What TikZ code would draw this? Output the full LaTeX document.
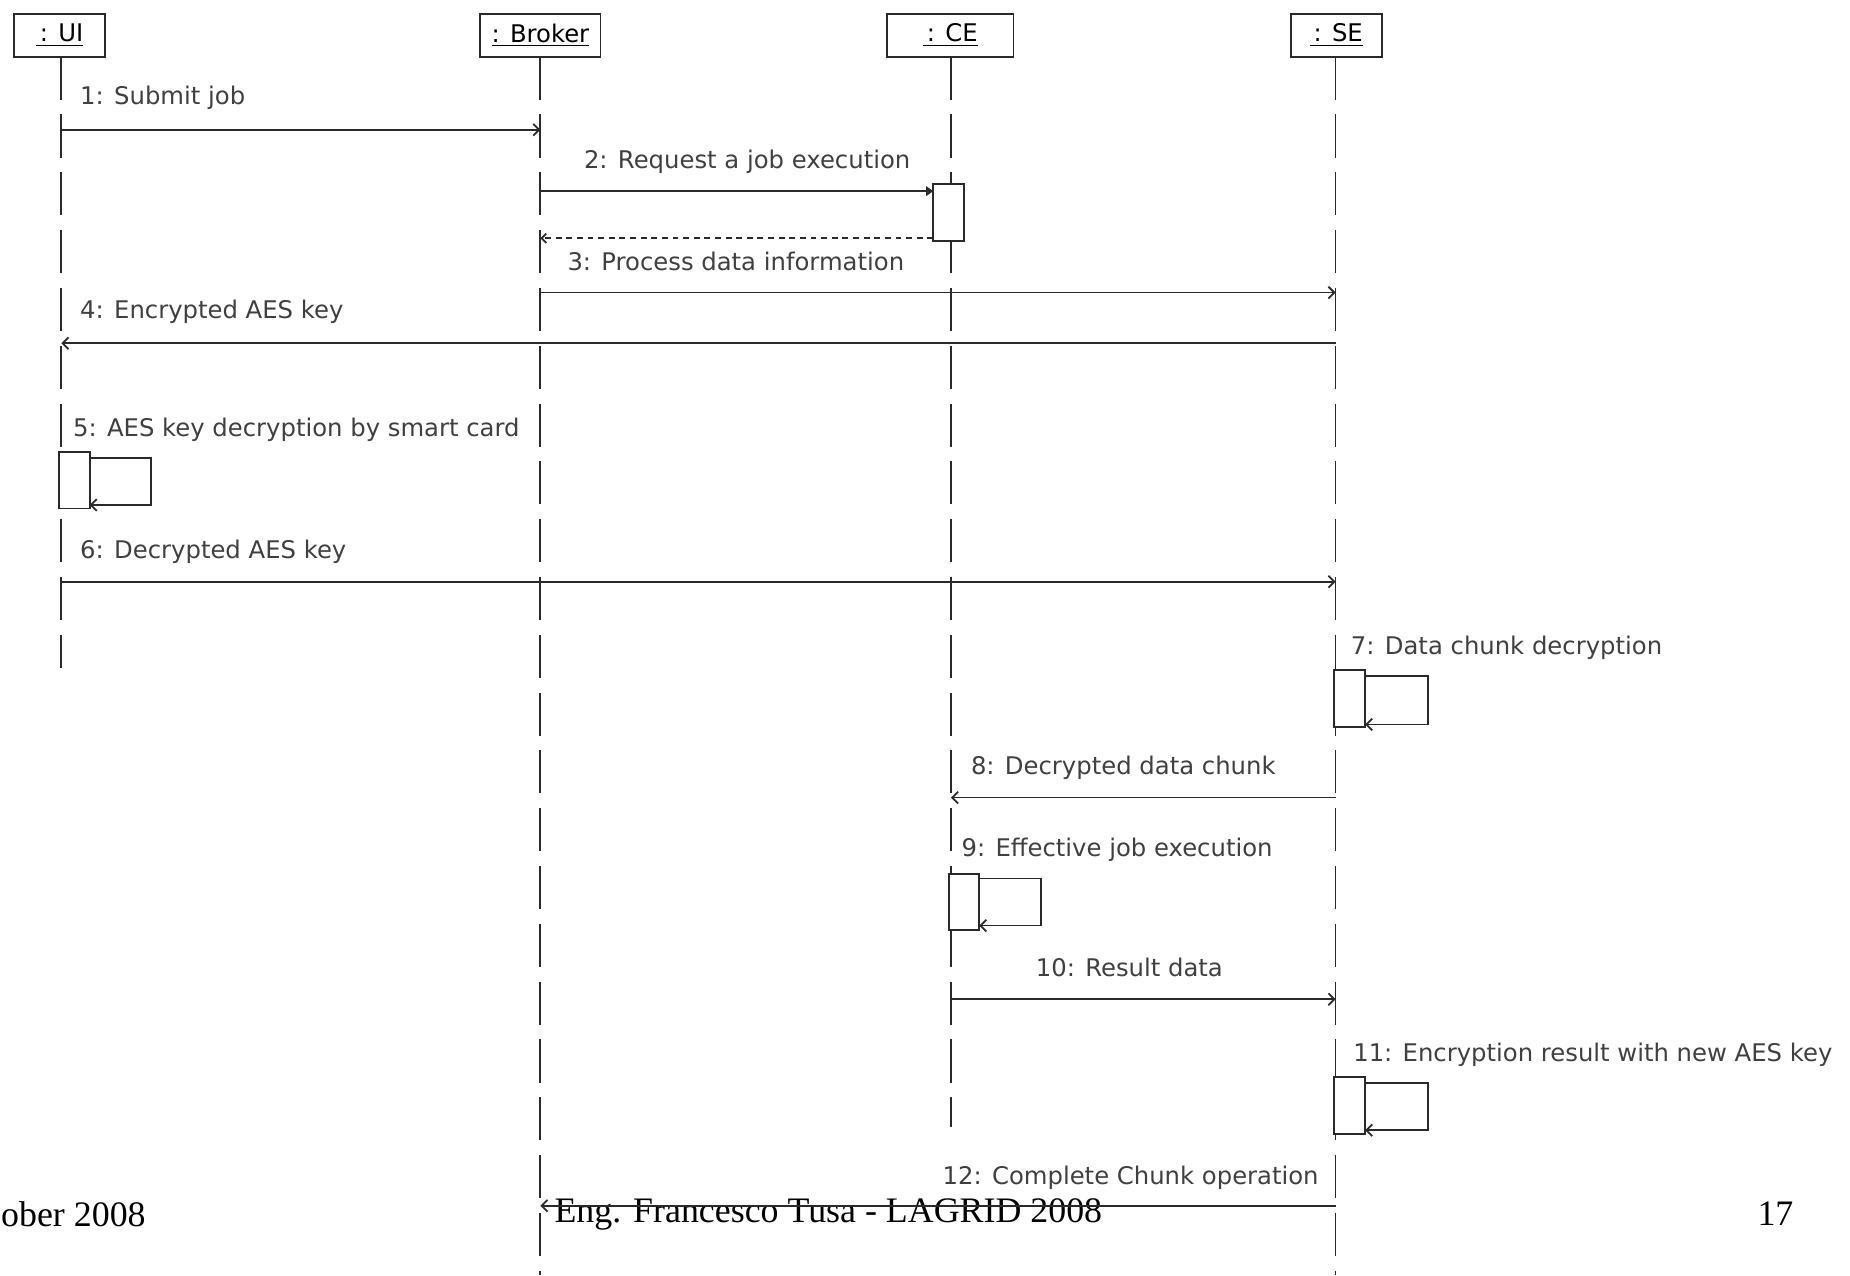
\documentclass[tikz,border=0pt]{standalone}
\usepackage{fontspec}
\setmainfont{DejaVu Sans}
\newfontfamily\footfont{Liberation Serif}
\usetikzlibrary{arrows.meta}
\definecolor{ln}{HTML}{2A2A2A}
\definecolor{tx}{HTML}{404040}
\begin{document}
\begin{tikzpicture}[x=0.5pt,y=-0.5pt,
  every node/.style={inner sep=0pt,outer sep=0pt},
  obj/.style={draw=ln,line width=0.8pt,minimum height=18pt,text=black,font=\fontsize{10.3}{12}\selectfont},
  lifeline/.style={draw=ln,line width=0.75pt,dash pattern=on 18.25pt off 6.25pt},
  msg/.style={draw=ln,line width=0.75pt,-{Straight Barb[length=2.5pt,width=5pt]}},
  msgf/.style={draw=ln,line width=0.75pt,-{Triangle[length=3pt,width=4pt]}},
  ret/.style={draw=ln,line width=0.75pt,dash pattern=on 2.5pt off 2pt,-{Straight Barb[length=2pt,width=4pt]}},
  lbl/.style={anchor=west,text=tx,font=\fontsize{10.3}{12}\selectfont},
  act/.style={draw=ln,line width=0.8pt,fill=white,minimum width=13pt,minimum height=24pt},
  footer/.style={text=black,font=\footfont\fontsize{15.2}{18}\selectfont}
]
\useasboundingbox (0,0) rectangle (1568,1081);
\fill[white] (0,0) rectangle (1568,1081);

% objects
\node[obj,minimum width=38.5pt] (ui) at (50.5,30) {\underline{\,: UI}};
\node[obj,minimum width=51pt] (broker) at (458,30) {\underline{: Broker}};
\node[obj,minimum width=53.5pt] (ce) at (805.5,30) {\underline{\,: CE}};
\node[obj,minimum width=38.5pt] (se) at (1132.5,30) {\underline{\,: SE}};

% lifeline ends
\coordinate (uiend) at (52,566);
\coordinate (brend) at (458,1081);
\coordinate (ceend) at (806,955);
\coordinate (seend) at (1132,1081);
\draw[lifeline] (ui.south -| uiend) -- (uiend);
\draw[lifeline] (broker.south) -- (brend);
\draw[lifeline] (ce.south -| ceend) -- (ceend);
\draw[lifeline] (se.south -| seend) -- (seend);

% footer
\node[footer,anchor=west] (f1) at (1,1029) {ober 2008};
\node[footer,anchor=west] (f2) at (470,1029) {Eng. Francesco Tusa - LAGRID 2008};
\node[footer,anchor=east] (f3) at (1520,1029) {17};

% activation boxes
\node[act] (a2) at (804,180) {};
\node[act] (a5) at (63,407) {};
\node[act] (a7) at (1144,592) {};
\node[act] (a9) at (817,764.5) {};
\node[act] (a11) at (1144,937) {};

% message coordinates
\coordinate (m1a) at (52,110);   \coordinate (m1b) at (458,110);
\coordinate (m2a) at (458,162);
\coordinate (r2) at (458,202);
\coordinate (m3a) at (458,248);  \coordinate (m3b) at (1132,248);
\coordinate (m4a) at (1132,291); \coordinate (m4b) at (52,291);
\coordinate (m6a) at (52,493);   \coordinate (m6b) at (1132,493);
\coordinate (m8a) at (1132,676); \coordinate (m8b) at (806,676);
\coordinate (m10a) at (806,847); \coordinate (m10b) at (1132,847);
\coordinate (m12a) at (1132,1022); \coordinate (m12b) at (458,1022);

% messages
\draw[msg] (m1a) -- (m1b);
\node[lbl] (l1) at (68,83) {1: Submit job};

\draw[msgf] (m2a) -- (a2.west |- m2a);
\node[lbl] (l2) at (495,137) {2: Request a job execution};
\draw[ret] ([yshift=1pt]a2.south west) -- (r2);

\draw[msg] (m3a) -- (m3b);
\node[lbl] (l3) at (481,222) {3: Process data information};

\draw[msg] (m4a) -- (m4b);
\node[lbl] (l4) at (68,264) {4: Encrypted AES key};

\node[lbl] (l5) at (62,364) {5: AES key decryption by smart card};
\draw[msg] ([yshift=-2.5pt]a5.north east) -| ([xshift=26pt,yshift=1.5pt]a5.south east) -- ([yshift=1.5pt]a5.south east);

\draw[msg] (m6a) -- (m6b);
\node[lbl] (l6) at (68,468) {6: Decrypted AES key};

\node[lbl] (l7) at (1145,549) {7: Data chunk decryption};
\draw[msg] ([yshift=-2.5pt]a7.north east) -| ([xshift=26.5pt,yshift=1pt]a7.south east) -- ([yshift=1pt]a7.south east);

\draw[msg] (m8a) -- (m8b);
\node[lbl] (l8) at (823,651) {8: Decrypted data chunk};

\node[lbl] (l9) at (815,720) {9: Effective job execution};
\draw[msg] ([yshift=-2pt]a9.north east) -| ([xshift=26pt,yshift=2pt]a9.south east) -- ([yshift=2pt]a9.south east);

\draw[msg] (m10a) -- (m10b);
\node[lbl] (l10) at (878,820) {10: Result data};

\node[lbl] (l11) at (1147,894) {11: Encryption result with new AES key};
\draw[msg] ([yshift=-2.5pt]a11.north east) -| ([xshift=26.5pt,yshift=1.5pt]a11.south east) -- ([yshift=1.5pt]a11.south east);

\draw[msg] (m12a) -- (m12b);
\node[lbl] (l12) at (799,998) {12: Complete Chunk operation};
\end{tikzpicture}
\end{document}
